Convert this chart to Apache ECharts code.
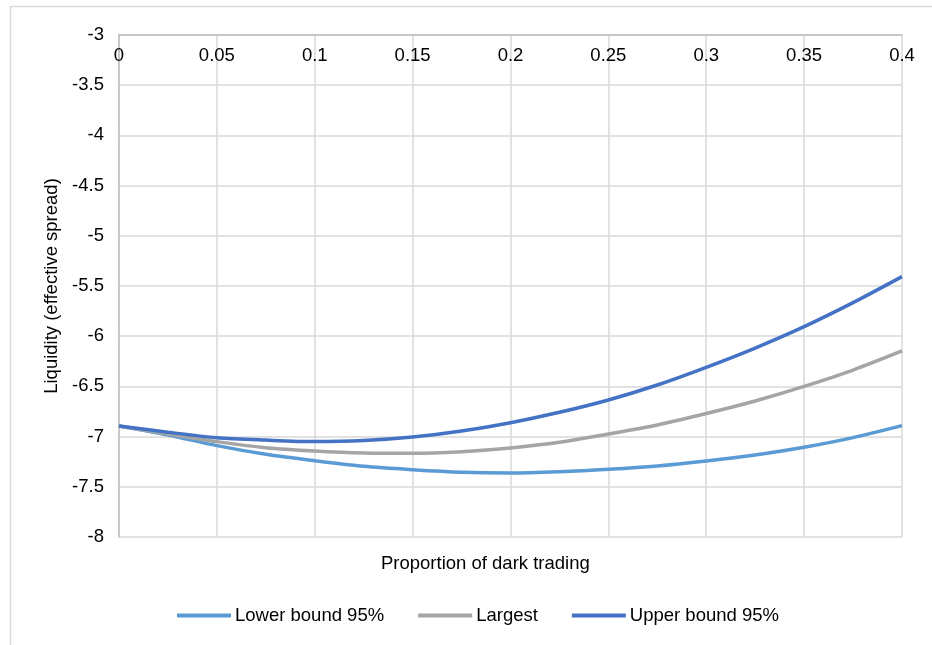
<!DOCTYPE html>
<html>
<head>
<meta charset="utf-8">
<script src="https://cdn.jsdelivr.net/npm/echarts@6/dist/echarts.min.js"></script>
<style>
  html, body { margin: 0; padding: 0; background: #fff; }
  #chart { width: 932px; height: 645px; }
</style>
</head>
<body>
<div id="chart"></div>
<script>
// Proportion of dark trading (x) and the estimated liquidity curves
const darkShare = [0, 0.025, 0.05, 0.075, 0.1, 0.125, 0.15, 0.175, 0.2,
                   0.225, 0.25, 0.275, 0.3, 0.325, 0.35, 0.375, 0.4];
const lowerBound = [-6.894, -6.984, -7.09, -7.176, -7.24, -7.296, -7.33, -7.355, -7.363,
                    -7.35, -7.326, -7.293, -7.243, -7.183, -7.106, -7.01, -6.891];
const largest    = [-6.894, -6.974, -7.05, -7.11, -7.143, -7.163, -7.167, -7.15, -7.113,
                    -7.057, -6.974, -6.884, -6.77, -6.645, -6.5, -6.337, -6.147];
const upperBound = [-6.894, -6.957, -7.011, -7.035, -7.05, -7.04, -7.005, -6.945, -6.862,
                    -6.758, -6.635, -6.486, -6.31, -6.118, -5.905, -5.666, -5.407];

const seriesNames = ['Lower bound 95%', 'Largest', 'Upper bound 95%'];
const xAxisTitle = 'Proportion of dark trading';
const yAxisTitle = 'Liquidity (effective spread)';

const pairs = ys => darkShare.map((x, i) => [x, ys[i]]);
const font = 'Liberation Sans, Arial, sans-serif';
const fs = 18.5;

const chart = echarts.init(document.getElementById('chart'), null, { renderer: 'canvas' });
chart.setOption({
  animation: false,
  color: ['#5B9BD5', '#A5A5A5', '#4472C4'],
  textStyle: { fontFamily: font },
  grid: { left: 119, right: 30, top: 35, bottom: 108 },
  graphic: [
    {
      type: 'rect', left: 8, top: 4, silent: true,
      shape: { width: 1000, height: 1000 },
      style: { fill: 'none', stroke: '#d9d9d9', lineWidth: 1.5 }
    },
    {
      type: 'text', left: 381, top: 554,
      style: { text: xAxisTitle, font: fs + 'px ' + font, fill: '#000' }
    }
  ],
  legend: {
    left: 177, top: 606, padding: 0,
    icon: 'rect',
    itemWidth: 54, itemHeight: 4, itemGap: 34,
    textStyle: { fontSize: fs, color: '#000', fontFamily: font, padding: [0, 0, 0, -1] },
    data: seriesNames
  },
  xAxis: {
    type: 'value', position: 'top',
    min: 0, max: 0.4, interval: 0.05,
    axisLine: { show: true, onZero: false, lineStyle: { color: '#bfbfbf', width: 1.5 } },
    axisTick: { show: false },
    axisLabel: { inside: true, margin: 11, fontSize: fs, color: '#000', fontFamily: font, showMinLabel: true, showMaxLabel: true },
    splitLine: { show: true, lineStyle: { color: '#d9d9d9', width: 1.5 } }
  },
  yAxis: {
    type: 'value',
    min: -8, max: -3, interval: 0.5,
    name: yAxisTitle, nameLocation: 'middle', nameGap: 55,
    nameTextStyle: { fontSize: fs, color: '#000', fontFamily: font },
    axisLine: { show: true, onZero: false, lineStyle: { color: '#bfbfbf', width: 1.5 } },
    axisTick: { show: false },
    axisLabel: { margin: 15, fontSize: fs, color: '#000', fontFamily: font },
    splitLine: { show: true, lineStyle: { color: '#d9d9d9', width: 1.5 } }
  },
  series: [
    { name: seriesNames[0], type: 'line', data: pairs(lowerBound), smooth: 0.3, symbol: 'none', lineStyle: { width: 3.5 } },
    { name: seriesNames[1], type: 'line', data: pairs(largest), smooth: 0.3, symbol: 'none', lineStyle: { width: 3.5 } },
    { name: seriesNames[2], type: 'line', data: pairs(upperBound), smooth: 0.3, symbol: 'none', lineStyle: { width: 3.5 } }
  ]
});
</script>
</body>
</html>
